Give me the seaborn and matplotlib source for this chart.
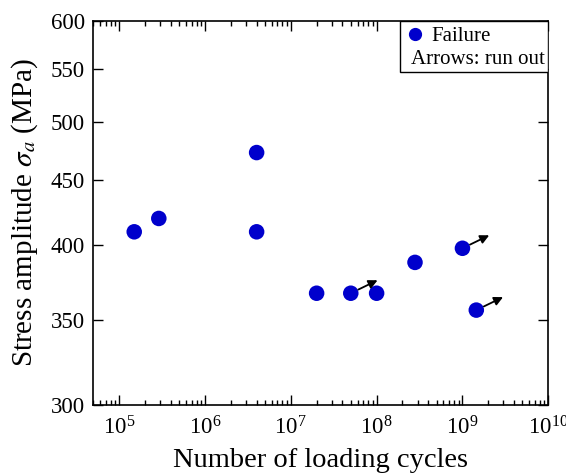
import matplotlib
matplotlib.use("Agg")
import matplotlib.pyplot as plt
import matplotlib.ticker as mticker
from matplotlib.patches import Rectangle
import seaborn as sns
import pandas as pd

# ---- data ----
cycles = [1.5e5, 2.9e5, 4e6, 4e6, 2e7, 5e7, 1e8, 2.8e8, 1e9, 1.45e9]
stress = [410, 420, 473, 410, 367, 367, 367, 388, 398, 356]
runout_cycles = [5e7, 1e9, 1.45e9]
runout_stress = [367, 398, 356]
y_ticks = [300, 350, 400, 450, 500, 550, 600]

sns.set_style("ticks")
plt.rcParams['font.family'] = ['Liberation Serif', 'DejaVu Serif']
plt.rcParams['mathtext.fontset'] = 'stix'
plt.rcParams['text.color'] = 'black'
plt.rcParams['axes.labelcolor'] = 'black'
plt.rcParams['xtick.color'] = 'black'
plt.rcParams['ytick.color'] = 'black'

df = pd.DataFrame({"cycles": cycles, "stress": stress})

fig = plt.figure(figsize=(5.66, 4.74), dpi=100)
ax = fig.add_axes([0.1648, 0.1456, 0.8039, 0.8107])

blue = '#0000CC'
sns.scatterplot(data=df, x="cycles", y="stress", ax=ax, s=125, color=blue,
                edgecolor='none', label="Failure", legend=False)

ax.set_xscale('log')
ax.set_yscale('log')
ax.set_xlim(5e4, 1e10)
ax.set_ylim(300, 600)

# run-out arrows
for x, y in zip(runout_cycles, runout_stress):
    ax.annotate('', xy=(x * 2.05, y * 1.0237), xytext=(x, y),
                arrowprops=dict(arrowstyle='-|>', color='black', lw=1.3,
                                shrinkA=6, shrinkB=0, mutation_scale=13))

ax.xaxis.set_major_locator(mticker.LogLocator(base=10, numticks=12))
ax.xaxis.set_minor_locator(mticker.LogLocator(base=10, subs=range(2, 10), numticks=12))
ax.xaxis.set_minor_formatter(mticker.NullFormatter())
ax.yaxis.set_major_locator(mticker.FixedLocator(y_ticks))
ax.yaxis.set_major_formatter(mticker.FixedFormatter([str(v) for v in y_ticks]))
ax.yaxis.set_minor_locator(mticker.NullLocator())

ax.tick_params(which='both', direction='in', top=True, right=True, width=1,
               colors='black', labelcolor='black')
ax.tick_params(which='major', length=7, labelsize=16.5)
ax.tick_params(which='minor', length=3.5)
ax.tick_params(axis='y', pad=6)
ax.tick_params(axis='x', pad=8)
for sp in ax.spines.values():
    sp.set_linewidth(1.2)
    sp.set_color('black')

ax.set_xlabel("Number of loading cycles", fontsize=20.5, labelpad=6, color='black')
ax.set_ylabel(r"Stress amplitude $\sigma_a$ (MPa)", fontsize=21, color='black')
ax.yaxis.set_label_coords(-0.117, 0.5)

# legend box
ax.add_patch(Rectangle((0.674, 0.867), 0.326, 0.133, transform=ax.transAxes,
                       facecolor='white', edgecolor='black', lw=1.0, zorder=5))
handle = plt.Line2D([], [], marker='o', linestyle='none', color=blue, markersize=8.5)
leg = ax.legend([handle], ["Failure"], loc='upper left', bbox_to_anchor=(0.684, 0.995),
                frameon=False, fontsize=15, handlelength=0.6, handletextpad=0.5,
                borderaxespad=0, borderpad=0.2)
leg.set_zorder(6)
ax.text(0.699, 0.90, "Arrows: run out", transform=ax.transAxes, fontsize=15,
        ha='left', va='center', zorder=7)

fig.savefig("out.png", dpi=100)
